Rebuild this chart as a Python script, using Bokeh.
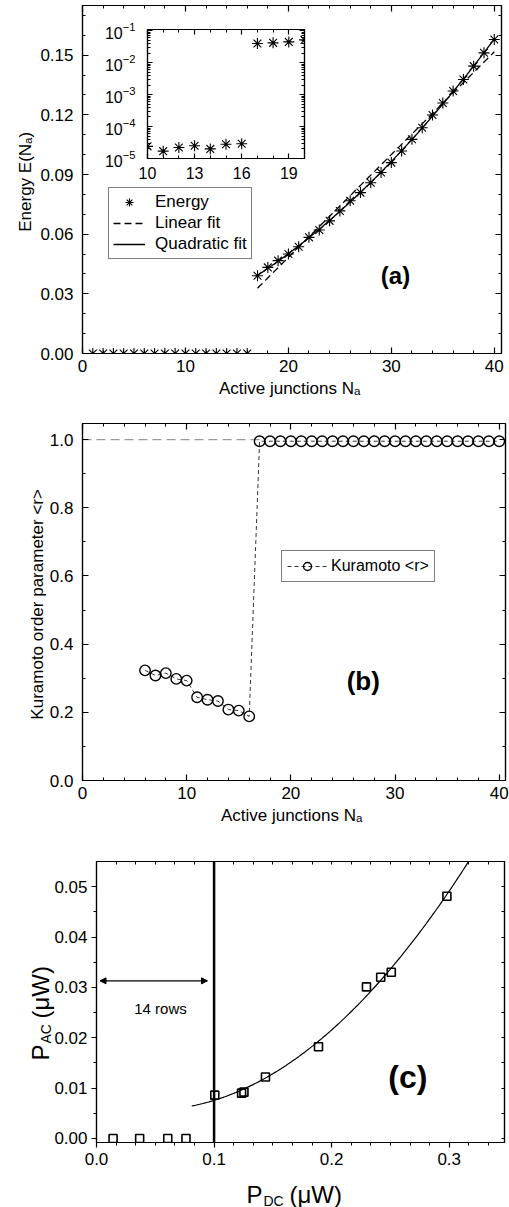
import numpy as np
from bokeh.plotting import figure
from bokeh.models import (Range1d, LinearAxis, LogAxis, FixedTicker, Legend, LegendItem,
                          Label, Span, Arrow, NormalHead, GridBox, PrintfTickFormatter,
                          CustomLabelingPolicy)
from bokeh.embed import file_html
from bokeh.resources import INLINE

FONT = "Liberation Sans"

# ---------------- data: panel (a) ----------------
energy_n = list(range(1, 41))
energy_e = [0.0, 0.0, 0.0, 0.0, 0.0, 0.0, 0.0, 0.0, 0.0, 0.0, 0.0, 0.0, 0.0, 0.0, 0.0, 0.0,
            0.0391, 0.0433, 0.0467, 0.0500, 0.0537, 0.0584, 0.0621, 0.0667, 0.0717, 0.0768,
            0.0809, 0.0859, 0.0910, 0.0960, 0.1018, 0.1077, 0.1135, 0.1199, 0.1260, 0.1320,
            0.1378, 0.1445, 0.1512, 0.1579]
fit_first_n = 17
a_xticks = [0, 10, 20, 30, 40]
a_yticks = [0.0, 0.03, 0.06, 0.09, 0.12, 0.15]

# inset (log scale)
inset_n = [10, 11, 12, 13, 14, 15, 16, 17, 18, 19, 20]
inset_e = [2.4e-5, 1.7e-5, 2.2e-5, 2.5e-5, 2.0e-5, 2.8e-5, 2.9e-5, 0.040, 0.042, 0.045, 0.052]
inset_xticks = [10, 13, 16, 19]
inset_yticks = [1e-5, 1e-4, 1e-3, 1e-2, 1e-1]

# ---------------- data: panel (b) ----------------
kura_n = list(range(6, 41))
kura_r = [0.323, 0.308, 0.315, 0.298, 0.293, 0.244, 0.237, 0.233, 0.208, 0.205, 0.188,
          0.995, 0.995, 0.995, 0.995, 0.995, 0.995, 0.995, 0.995, 0.995, 0.995, 0.995, 0.995,
          0.995, 0.995, 0.995, 0.995, 0.995, 0.995, 0.995, 0.995, 0.995, 0.995, 0.995, 0.995]
kura_ref_x = [0, 17]
kura_ref_y = [1.0, 1.0]
b_yticks = [0.0, 0.2, 0.4, 0.6, 0.8, 1.0]

# ---------------- data: panel (c) ----------------
pdc = [0.0141, 0.0367, 0.0606, 0.0761, 0.1006, 0.1234, 0.1254, 0.1437, 0.1888, 0.2296, 0.2417, 0.2507, 0.2980]
pac = [0.0, 0.0, 0.0, 0.0, 0.0086, 0.0090, 0.0092, 0.0122, 0.0182, 0.0301, 0.0320, 0.0330, 0.0481]
pdc_threshold = 0.1
fit_c_start = 0.081
rows_arrow_x = [0.003, 0.0944]
rows_arrow_y = 0.0313
c_xticks = [0.0, 0.1, 0.2, 0.3]
c_yticks = [0.0, 0.01, 0.02, 0.03, 0.04, 0.05]

NO_LABELS = CustomLabelingPolicy(code="return []")


def base_fig(**kw):
    p = figure(output_backend="svg", toolbar_location=None, **kw)
    p.xgrid.visible = False
    p.ygrid.visible = False
    p.outline_line_color = "black"
    p.outline_line_width = 1.2
    p.background_fill_color = "white"
    try:
        p.frame_align = False
    except Exception:
        pass
    return p


def style_axis(ax, size="17px", tin=6, tout=0, mtin=3, mtout=0, standoff=8):
    ax.axis_line_color = "black"
    ax.axis_line_width = 1.2
    ax.major_tick_line_color = "black"
    ax.minor_tick_line_color = "black"
    ax.major_tick_line_width = 1.2
    ax.major_tick_in = tin
    ax.major_tick_out = tout
    ax.minor_tick_in = mtin
    ax.minor_tick_out = mtout
    ax.major_label_text_font = FONT
    ax.major_label_text_font_size = size
    ax.major_label_text_color = "black"
    ax.major_label_standoff = standoff
    ax.axis_label_text_font = FONT
    ax.axis_label_text_font_style = "normal"
    ax.axis_label_text_color = "black"


def mirror(p, side, ticker, cls=LinearAxis, tin=6, mtin=3):
    ax = cls(ticker=ticker)
    style_axis(ax, size="1px", tin=tin, mtin=mtin, standoff=0)
    ax.major_label_policy = NO_LABELS
    p.add_layout(ax, side)


# ================= panel (a) =================
pa = base_fig(width=509, height=400, x_range=Range1d(0, 40.7), y_range=Range1d(0, 0.175),
              min_border_left=82, min_border_right=8, min_border_top=5, min_border_bottom=47)
ax_t = FixedTicker(ticks=a_xticks, minor_ticks=list(range(0, 41, 2)))
ay_t = FixedTicker(ticks=a_yticks, minor_ticks=[i / 100 for i in range(0, 18)])
pa.xaxis.ticker = ax_t
pa.yaxis.ticker = ay_t
pa.yaxis.formatter = PrintfTickFormatter(format="%.2f")
style_axis(pa.xaxis[0], standoff=6)
style_axis(pa.yaxis[0], standoff=9)
pa.xaxis.axis_label = "Active junctions  N\u2090"
pa.yaxis.axis_label = "Energy  E(N\u2090)"
pa.xaxis.axis_label_text_font_size = "17px"
pa.yaxis.axis_label_text_font_size = "17px"
pa.xaxis.axis_label_standoff = 4
pa.yaxis.axis_label_standoff = 2
mirror(pa, "above", ax_t)
mirror(pa, "right", ay_t)

fit_n = [n for n in energy_n if n >= fit_first_n]
fit_e = [e for n, e in zip(energy_n, energy_e) if n >= fit_first_n]
fx = np.linspace(fit_n[0], fit_n[-1], 200)
lin = np.polyval(np.polyfit(fit_n, fit_e, 1), fx)
quad = np.polyval(np.polyfit(fit_n, fit_e, 2), fx)
r_lin = pa.line(fx, lin, line_color="black", line_width=1.3, line_dash="7 4")
r_quad = pa.line(fx, quad, line_color="black", line_width=1.3)
r_e = pa.scatter(energy_n, energy_e, marker="asterisk", size=11, line_color="black", line_width=1.1)

leg_a = Legend(items=[LegendItem(label="Energy", renderers=[r_e]),
                      LegendItem(label="Linear fit", renderers=[r_lin]),
                      LegendItem(label="Quadratic fit", renderers=[r_quad])],
               location=(26, 94), border_line_color="black", border_line_width=1.3,
               label_text_font=FONT, label_text_font_size="17px", label_text_color="black",
               padding=4, spacing=1, margin=0, glyph_width=32, glyph_height=20, label_height=20,
               label_standoff=10, background_fill_alpha=1.0)
pa.add_layout(leg_a)
pa.add_layout(Label(x=30.4, y=0.0393, text="(a)", text_align="center", text_baseline="middle",
                    text_font=FONT, text_font_size="24px", text_font_style="bold",
                    text_color="black"))

# ================= inset =================
pin = base_fig(width=220, height=165, x_range=Range1d(10, 20), y_range=Range1d(1e-5, 0.11),
               y_axis_type="log", min_border_left=57, min_border_right=6, min_border_top=9,
               min_border_bottom=27)
pin.border_fill_color = None
in_xt = FixedTicker(ticks=inset_xticks, minor_ticks=list(range(10, 21)))
in_yt = FixedTicker(ticks=inset_yticks,
                    minor_ticks=[k * 10.0 ** e for e in range(-5, -1) for k in range(1, 10)] + [0.1])
pin.xaxis.ticker = in_xt
pin.yaxis.ticker = in_yt
style_axis(pin.xaxis[0], size="16px", tin=5, mtin=3, standoff=8)
style_axis(pin.yaxis[0], size="16px", tin=5, mtin=3, standoff=12)
mirror(pin, "above", in_xt, tin=5)
mirror(pin, "right", in_yt, cls=LogAxis, tin=5)
pin.scatter(inset_n, inset_e, marker="asterisk", size=11, line_color="black", line_width=1.1)

# ================= panel (b) =================
pb = base_fig(width=509, height=430, x_range=Range1d(0, 40.6), y_range=Range1d(0, 1.047),
              min_border_left=82, min_border_right=1, min_border_top=23, min_border_bottom=50)
bx_t = FixedTicker(ticks=a_xticks, minor_ticks=list(range(0, 41, 2)))
by_t = FixedTicker(ticks=b_yticks, minor_ticks=[i / 10 for i in range(0, 11)])
pb.xaxis.ticker = bx_t
pb.yaxis.ticker = by_t
pb.yaxis.formatter = PrintfTickFormatter(format="%.1f")
style_axis(pb.xaxis[0], standoff=6)
style_axis(pb.yaxis[0], standoff=9)
pb.xaxis.axis_label = "Active junctions  N\u2090"
pb.yaxis.axis_label = "Kuramoto order parameter  <r>"
pb.xaxis.axis_label_text_font_size = "17px"
pb.yaxis.axis_label_text_font_size = "17px"
pb.xaxis.axis_label_standoff = 4
pb.yaxis.axis_label_standoff = 0
mirror(pb, "above", bx_t)
mirror(pb, "right", by_t)

pb.line(kura_ref_x, kura_ref_y, line_color="#9a9a9a", line_width=1.3, line_dash="9 5")
r_kl = pb.line(kura_n, kura_r, line_color="black", line_width=0.8, line_dash="4 3")
r_ks = pb.scatter(kura_n, kura_r, marker="circle", size=10.5, fill_color=None,
                  line_color="black", line_width=1.4)
leg_b = Legend(items=[LegendItem(label="Kuramoto <r>", renderers=[r_kl, r_ks])],
               location=(199, 198), border_line_color="black", border_line_width=1.3,
               label_text_font=FONT, label_text_font_size="16px", label_text_color="black",
               padding=5, margin=0, glyph_width=40, glyph_height=20, label_height=20,
               label_standoff=4)
pb.add_layout(leg_b)
pb.add_layout(Label(x=26.95, y=0.293, text="(b)", text_align="center", text_baseline="middle",
                    text_font=FONT, text_font_size="26px", text_font_style="bold",
                    text_color="black"))

# ================= panel (c) =================
pc = base_fig(width=509, height=377, x_range=Range1d(0, 0.347), y_range=Range1d(-0.0008, 0.055),
              min_border_left=96, min_border_right=1, min_border_top=31, min_border_bottom=65)
cx_t = FixedTicker(ticks=c_xticks, minor_ticks=[i / 60 for i in range(0, 21)])
cy_t = FixedTicker(ticks=c_yticks, minor_ticks=[i / 200 for i in range(0, 11)])
pc.xaxis.ticker = cx_t
pc.yaxis.ticker = cy_t
pc.xaxis.formatter = PrintfTickFormatter(format="%.1f")
pc.yaxis.formatter = PrintfTickFormatter(format="%.2f")
style_axis(pc.xaxis[0], size="17px", tin=0, tout=5, mtin=0, mtout=3, standoff=5)
style_axis(pc.yaxis[0], size="17px", tin=0, tout=5, mtin=0, mtout=3, standoff=4)
mirror(pc, "above", cx_t, tin=0, mtin=3)
mirror(pc, "right", cy_t, tin=0, mtin=3)

pc.add_layout(Span(location=pdc_threshold, dimension="height", line_color="black", line_width=2.5))
fit_x = [x for x in pdc if x >= pdc_threshold]
fit_y = [y for x, y in zip(pdc, pac) if x >= pdc_threshold]
cx = np.linspace(fit_c_start, 0.347, 200)
cy = np.polyval(np.polyfit(fit_x, fit_y, 2), cx)
pc.line(cx, cy, line_color="black", line_width=1.2)
pc.scatter(pdc, pac, marker="square", size=8, fill_color=None, line_color="black", line_width=1.6)

pc.add_layout(Arrow(start=NormalHead(size=6, fill_color="black", line_color="black"),
                    end=NormalHead(size=6, fill_color="black", line_color="black"),
                    x_start=rows_arrow_x[0], x_end=rows_arrow_x[1],
                    y_start=rows_arrow_y, y_end=rows_arrow_y, line_width=1.1, line_color="black"))
pc.add_layout(Label(x=0.0544, y=0.0259, text="14 rows", text_align="center", text_baseline="middle",
                    text_font=FONT, text_font_size="15px", text_color="black"))
pc.add_layout(Label(x=0.2648, y=0.0122, text="(c)", text_align="center", text_baseline="middle",
                    text_font=FONT, text_font_size="32px", text_font_style="bold",
                    text_color="black"))


# ---- transparent overlays carrying the (c) axis titles with subscripts ----
def overlay(w, h):
    o = figure(width=w, height=h, x_range=Range1d(0, w), y_range=Range1d(h, 0),
               output_backend="svg", toolbar_location=None, x_axis_location=None,
               y_axis_location=None, min_border=0, min_border_left=0, min_border_right=0,
               min_border_top=0, min_border_bottom=0)
    o.xgrid.visible = False
    o.ygrid.visible = False
    o.outline_line_color = None
    o.background_fill_color = None
    o.border_fill_color = None
    try:
        o.frame_align = False
    except Exception:
        pass
    return o


def txt(p, x, y, s, size, angle=0.0):
    p.add_layout(Label(x=x, y=y, text=s, angle=angle, text_font=FONT,
                       text_font_size=f"{size}px", text_align="left",
                       text_baseline="alphabetic", text_color="black"))


# x title  P_DC (uW): overlay strip under the frame of (c), 509 x 65 px
xt = overlay(509, 65)
txt(xt, 246, 52, "P", 24)
txt(xt, 263, 58, "DC", 14)
txt(xt, 289, 52, "(\u03bcW)", 24)
# y title  P_AC (uW): overlay strip left of (c), 90 x 377 px
yt = overlay(90, 377)
txt(yt, 40, 230, "P", 24, np.pi / 2)
txt(yt, 45, 213, "AC", 14, np.pi / 2)
txt(yt, 40, 188, "(\u03bcW)", 24, np.pi / 2)

grid = GridBox(children=[(pa, 0, 0, 3, 3), (pin, 1, 1, 1, 1), (pb, 3, 0, 1, 3),
                         (pc, 4, 0, 2, 3), (xt, 5, 0, 1, 3), (yt, 4, 0, 2, 1)],
               rows=["20px", "165px", "215px", "430px", "312px", "65px"],
               cols=["90px", "220px", "199px"])

open("out.html", "w").write(file_html(grid, INLINE))
